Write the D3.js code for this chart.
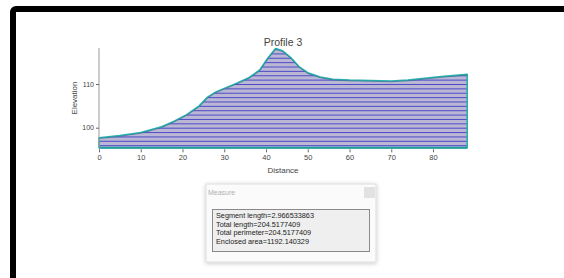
<!DOCTYPE html>
<html>
<head>
<meta charset="utf-8">
<script src="https://cdn.jsdelivr.net/npm/d3@7"></script>
<style>
  body { margin: 0; background: #fff; }
  svg { display: block; font-family: "Liberation Sans", Arial, sans-serif; }
</style>
</head>
<body>
<script>
// profile samples
var distance  = [0, 0, 5, 10, 15, 18, 21, 24, 26, 28, 30, 33, 36, 38.5, 40.5, 42.3, 44, 46, 48, 50, 53, 56, 60, 65, 70, 74, 78, 82, 88.2, 88.2];
var elevation = [95.4, 97.7, 98.2, 98.9, 100.2, 101.5, 103.0, 105.0, 107.0, 108.2, 109.0, 110.2, 111.5, 113.2, 116.0, 118.1, 117.6, 116.0, 113.9, 112.6, 111.6, 111.1, 110.9, 110.8, 110.7, 110.9, 111.3, 111.7, 112.2, 95.4];
var xTicks = [0, 10, 20, 30, 40, 50, 60, 70, 80];
var yTicks = [100, 110];
var measureLines = ["Segment length=2.966533863", "Total length=204.5177409",
                    "Total perimeter=204.5177409", "Enclosed area=1192.140329"];

var w = 564, h = 278;
var svg = d3.select("body").append("svg").attr("width", w).attr("height", h);

// black frame (only top and left edges visible)
svg.append("rect").attr("x", 13).attr("y", 9).attr("width", 600).attr("height", 320)
  .attr("rx", 3).attr("fill", "none").attr("stroke", "#000").attr("stroke-width", 6);

var x = d3.scaleLinear().domain([0, 80]).range([99, 433]);
var y = d3.scaleLinear().domain([100, 110]).range([127.7, 84]);
var yBottom = 95.4, yTop = 118.2;

var pts = distance.map(function(d, i) { return [x(d), y(elevation[i])]; });

var defs = svg.append("defs");
defs.append("clipPath").attr("id", "areaClip")
  .append("path").attr("d", d3.line()(pts) + "Z");
var shadow = defs.append("filter").attr("id", "shadow").attr("x", -0.1).attr("y", -0.1)
  .attr("width", 1.2).attr("height", 1.3);
shadow.append("feDropShadow").attr("dx", 0).attr("dy", 1).attr("stdDeviation", 2)
  .attr("flood-color", "#000").attr("flood-opacity", 0.22);

// fill + stripes
svg.append("path").attr("d", d3.line()(pts) + "Z").attr("fill", "#bab6d4");
var stripes = svg.append("g").attr("clip-path", "url(#areaClip)");
stripes.selectAll("line").data(d3.range(96, 119)).enter().append("line")
  .attr("x1", x(0)).attr("x2", x(89))
  .attr("y1", function(d) { return y(d) + 0.5; })
  .attr("y2", function(d) { return y(d) + 0.5; })
  .attr("stroke", "#4e4cc8").attr("stroke-width", 1);

// outline
svg.append("path").attr("d", d3.line()(pts) + "Z")
  .attr("fill", "none").attr("stroke", "#2ab0ad").attr("stroke-width", 1.6)
  .attr("stroke-linejoin", "round");
svg.append("path").attr("d", d3.line()(pts.slice(1, pts.length - 1)))
  .attr("fill", "none").attr("stroke", "#2d6f8e").attr("stroke-width", 0.6)
  .attr("transform", "translate(0,0.8)");
svg.append("line").attr("x1", x(0)).attr("x2", x(88.2))
  .attr("y1", y(yBottom)).attr("y2", y(yBottom))
  .attr("stroke", "#1f9f9c").attr("stroke-width", 2);

// y axis
var yAxis = svg.append("g").attr("transform", "translate(" + x(0) + ",0)")
  .call(d3.axisLeft(y).tickValues(yTicks).tickSize(3).tickPadding(2));
yAxis.select(".domain").attr("d", "M0," + y(yTop) + "V" + y(yBottom)).attr("stroke", "#999");
yAxis.selectAll(".tick line").attr("stroke", "#666");
yAxis.selectAll("text").attr("font-size", 7).attr("fill", "#444")
  .attr("font-family", "Liberation Sans, Arial, sans-serif");

// x axis
var xAxis = svg.append("g").attr("transform", "translate(0," + (y(yBottom) + 1.5) + ")")
  .call(d3.axisBottom(x).tickValues(xTicks).tickSize(3).tickPadding(2));
xAxis.select(".domain").remove();
xAxis.selectAll(".tick line").attr("stroke", "#666");
xAxis.selectAll("text").attr("font-size", 7.5).attr("fill", "#444")
  .attr("font-family", "Liberation Sans, Arial, sans-serif");

// titles
svg.append("text").attr("x", 283).attr("y", 46).attr("text-anchor", "middle")
  .attr("font-size", 10.5).attr("fill", "#444").text("Profile 3");
svg.append("text").attr("x", 283).attr("y", 173).attr("text-anchor", "middle")
  .attr("font-size", 8).attr("fill", "#444").text("Distance");
svg.append("text").attr("transform", "translate(77,98) rotate(-90)").attr("text-anchor", "middle")
  .attr("font-size", 8).attr("fill", "#444").text("Elevation");

// measure dialog
var dlg = svg.append("g");
dlg.append("rect").attr("x", 206).attr("y", 184).attr("width", 170).attr("height", 78)
  .attr("fill", "#fbfbfb").attr("stroke", "#ddd").attr("filter", "url(#shadow)");
dlg.append("text").attr("x", 208).attr("y", 195).attr("font-size", 7)
  .attr("fill", "#b0b0b0").text("Measure");
dlg.append("rect").attr("x", 364).attr("y", 187).attr("width", 11).attr("height", 11)
  .attr("fill", "#e2e2e2");
dlg.append("rect").attr("x", 212.5).attr("y", 209.5).attr("width", 157).attr("height", 42)
  .attr("fill", "#efefef").attr("stroke", "#8a8a8a");
dlg.selectAll("text.m").data(measureLines).enter().append("text").attr("class", "m")
  .attr("x", 216).attr("y", function(d, i) { return 218 + i * 8.5; })
  .attr("font-size", 7.3).attr("fill", "#222").text(function(d) { return d; });
</script>
</body>
</html>
